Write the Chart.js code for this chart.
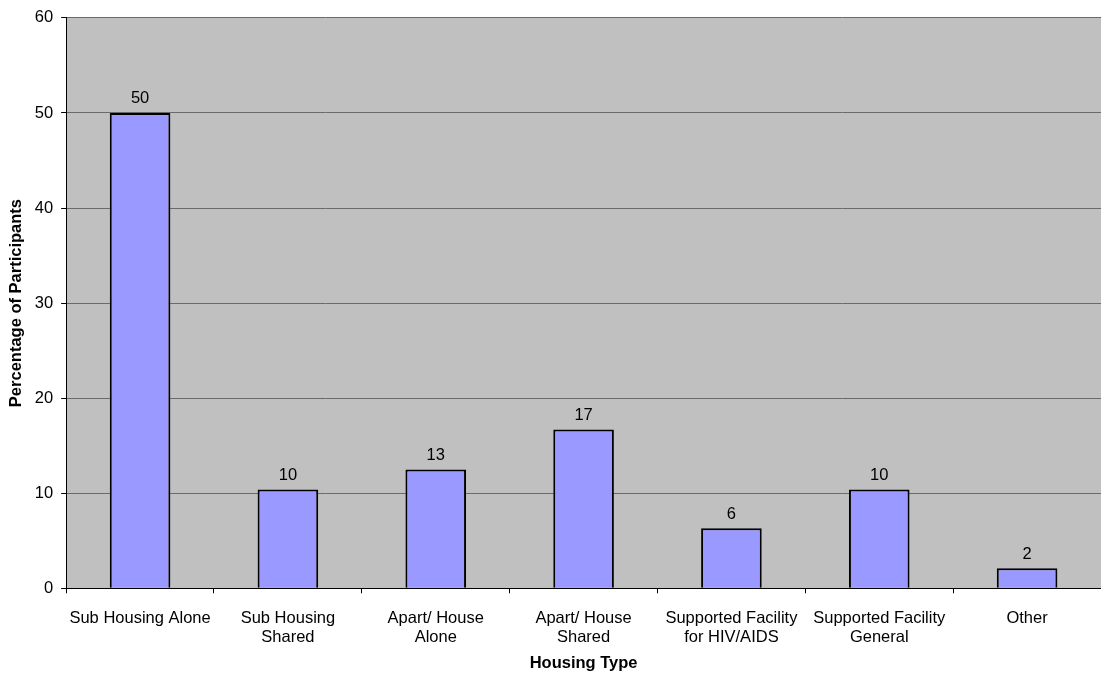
<!DOCTYPE html>
<html>
<head>
<meta charset="utf-8">
<script src="https://cdn.jsdelivr.net/npm/chart.js@4.4.1/dist/chart.umd.min.js"></script>
<style>
  html, body { margin: 0; padding: 0; background: #fff; }
  #wrap { width: 1101px; height: 677px; }
</style>
</head>
<body>
<div id="wrap"><canvas id="housingChart"></canvas></div>
<script>
// Housing type categories and percentage of participants
const housingTypes = [
  'Sub Housing Alone',
  ['Sub Housing', 'Shared'],
  ['Apart/ House', 'Alone'],
  ['Apart/ House', 'Shared'],
  ['Supported Facility', 'for HIV/AIDS'],
  ['Supported Facility', 'General'],
  'Other'
];
const percentages = [50, 10.4, 12.5, 16.7, 6.3, 10.4, 2.1];
const yTicks = [0, 10, 20, 30, 40, 50, 60];

const FONT = '"Liberation Sans", Arial, sans-serif';
const TEXT_SIZE = 16.5;

Chart.defaults.font.family = FONT;
Chart.defaults.color = '#000';

// gray plot area behind the bars
const plotBackground = {
  id: 'plotBackground',
  beforeDraw(chart) {
    const { ctx, chartArea: a } = chart;
    ctx.save();
    ctx.fillStyle = '#C0C0C0';
    ctx.fillRect(a.left, a.top, a.right - a.left, a.bottom - a.top);
    ctx.restore();
  }
};

// rounded value printed above each bar
const valueLabels = {
  id: 'valueLabels',
  afterDatasetsDraw(chart) {
    const ctx = chart.ctx;
    const meta = chart.getDatasetMeta(0);
    ctx.save();
    ctx.font = TEXT_SIZE + 'px ' + FONT;
    ctx.fillStyle = '#000';
    ctx.textAlign = 'center';
    ctx.textBaseline = 'bottom';
    meta.data.forEach((bar, i) => {
      ctx.fillText(Math.round(percentages[i]), bar.x, bar.y - 6);
    });
    ctx.restore();
  }
};

new Chart(document.getElementById('housingChart'), {
  type: 'bar',
  data: {
    labels: housingTypes,
    datasets: [{
      data: percentages,
      backgroundColor: '#9999FF',
      borderColor: '#000',
      borderWidth: 2,
      categoryPercentage: 1,
      barPercentage: 0.41
    }]
  },
  options: {
    responsive: true,
    maintainAspectRatio: false,
    animation: false,
    layout: { padding: { top: 14, right: 0, left: 7, bottom: 4 } },
    plugins: {
      legend: { display: false },
      tooltip: { enabled: false }
    },
    scales: {
      x: {
        grid: {
          offset: true,
          drawOnChartArea: false,
          drawTicks: true,
          tickLength: 5,
          color: '#000'
        },
        border: { color: '#000', width: 1 },
        ticks: {
          font: { size: TEXT_SIZE, lineHeight: 1.15 },
          padding: 16,
          maxRotation: 0,
          autoSkip: false
        },
        title: {
          display: true,
          text: 'Housing Type',
          font: { size: TEXT_SIZE, weight: 'bold' },
          padding: { top: -10, bottom: 0 }
        }
      },
      y: {
        min: 0,
        max: 60,
        afterBuildTicks(axis) {
          axis.ticks = yTicks.map(v => ({ value: v }));
        },
        grid: {
          color: '#6a6a6a',
          tickColor: '#000',
          tickLength: 5,
          lineWidth: 1
        },
        border: { color: '#000', width: 1 },
        ticks: {
          font: { size: TEXT_SIZE },
          padding: 8
        },
        title: {
          display: true,
          text: 'Percentage of Participants',
          font: { size: TEXT_SIZE, weight: 'bold' },
          padding: { top: 0, bottom: 0 }
        }
      }
    }
  },
  plugins: [plotBackground, valueLabels]
});
</script>
</body>
</html>
